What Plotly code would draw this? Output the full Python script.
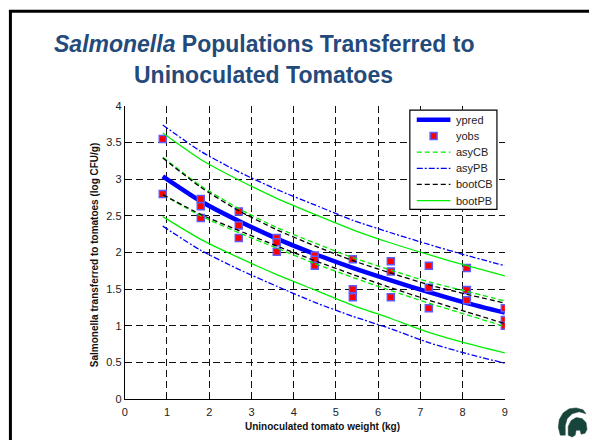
import plotly.graph_objects as go

W, H = 592, 446

# ---------------- data ----------------
x_fit = [0.9, 1.8, 2.7, 3.6, 4.5, 5.4, 6.3, 7.2, 8.1, 9.0]
ypred = [3.04, 2.70, 2.43, 2.19, 1.98, 1.79, 1.62, 1.46, 1.31, 1.18]

asyCB_upper = [3.30, 2.91, 2.60, 2.34, 2.13, 1.93, 1.76, 1.60, 1.47, 1.34]
asyCB_lower = [2.79, 2.50, 2.27, 2.06, 1.85, 1.66, 1.48, 1.31, 1.15, 0.99]
asyPB_upper = [3.74, 3.38, 3.10, 2.86, 2.65, 2.44, 2.27, 2.11, 1.96, 1.82]
asyPB_lower = [2.36, 2.03, 1.77, 1.54, 1.32, 1.13, 0.96, 0.77, 0.62, 0.49]
bootCB_upper = [3.29, 2.89, 2.57, 2.31, 2.09, 1.89, 1.72, 1.56, 1.43, 1.31]
bootCB_lower = [2.79, 2.52, 2.30, 2.09, 1.89, 1.70, 1.52, 1.35, 1.19, 1.03]
bootPB_upper = [3.63, 3.27, 2.99, 2.74, 2.52, 2.31, 2.13, 1.97, 1.82, 1.68]
bootPB_lower = [2.49, 2.18, 1.93, 1.70, 1.49, 1.28, 1.10, 0.91, 0.76, 0.63]

x_obs = [0.9, 0.9,
         1.8, 1.8, 1.8,
         2.7, 2.7, 2.7,
         3.6, 3.6, 3.6,
         4.5, 4.5, 4.5,
         5.4, 5.4, 5.4,
         6.3, 6.3, 6.3,
         7.2, 7.2, 7.2,
         8.1, 8.1, 8.1,
         9.0, 9.0, 9.0]
y_obs = [3.55, 2.80,
         2.73, 2.63, 2.47,
         2.56, 2.37, 2.20,
         2.20, 2.14, 2.01,
         1.96, 1.90, 1.82,
         1.91, 1.50, 1.39,
         1.88, 1.74, 1.39,
         1.82, 1.52, 1.24,
         1.79, 1.49, 1.35,
         1.24, 1.08, 1.00]

x_ticks = [0, 1, 2, 3, 4, 5, 6, 7, 8, 9]
y_ticks = [0, 0.5, 1, 1.5, 2, 2.5, 3, 3.5, 4]

legend_names = ["ypred", "yobs", "asyCB", "asyPB", "bootCB", "bootPB"]

title_line1 = "<b><i>Salmonella</i> Populations Transferred to</b>"
title_line2 = "<b>Uninoculated Tomatoes</b>"
x_title = "Uninoculated tomato weight (kg)"
y_title = "Salmonella transferred to tomatoes (log CFU/g)"

# ---------------- styles ----------------
FONT = "Liberation Sans, Arial, sans-serif"
BLUE = "#0000ff"
GREEN = "#00ee00"
TITLE_COLOR = "#244a7b"
MARKER_EDGE = "#5a5aff"

def px(x):
    return x / W

def py(y):
    return 1 - y / H

styles = {
    "ypred": dict(color=BLUE, width=4.5),
    "asyCB": dict(color=GREEN, width=1.3, dash="5px,3px"),
    "asyPB": dict(color=BLUE, width=1.3, dash="6px,2px,2px,2px"),
    "bootCB": dict(color="#000000", width=1.3, dash="5px,3px"),
    "bootPB": dict(color=GREEN, width=1.3),
}

fig = go.Figure()

fig.add_trace(go.Scatter(x=x_fit, y=ypred, mode="lines", name="ypred",
                         line=dict(styles["ypred"], shape="spline", smoothing=0.6)))
fig.add_trace(go.Scatter(x=x_obs, y=y_obs, mode="markers", name="yobs",
                         marker=dict(symbol="square", size=7, color="#ff0000",
                                     line=dict(color=MARKER_EDGE, width=1.5))))

bands = [
    ("asyCB", asyCB_upper, asyCB_lower),
    ("asyPB", asyPB_upper, asyPB_lower),
    ("bootCB", bootCB_upper, bootCB_lower),
    ("bootPB", bootPB_upper, bootPB_lower),
]
for name, up, lo in bands:
    ln = dict(styles[name], shape="spline", smoothing=0.6)
    fig.add_trace(go.Scatter(x=x_fit, y=up, mode="lines", name=name, line=ln))
    fig.add_trace(go.Scatter(x=x_fit, y=lo, mode="lines", name=name, line=ln))

axis_common = dict(
    showgrid=True, gridcolor="#111111", gridwidth=1, griddash="7px,4px",
    zeroline=False, showline=True, linecolor="#000000", linewidth=1,
    ticks="inside", ticklen=4, tickcolor="#000000", mirror=False,
    tickfont=dict(family=FONT, size=11, color="#222222"),
)

fig.update_layout(
    width=W, height=H,
    margin=dict(l=0, r=0, t=0, b=0),
    paper_bgcolor="#ffffff", plot_bgcolor="#ffffff",
    showlegend=False,
    xaxis=dict(axis_common, domain=[px(123), px(507)], range=[0, 9],
               tickvals=x_ticks, ticktext=[str(v) for v in x_ticks],
               ticklabelstandoff=3),
    yaxis=dict(axis_common, domain=[py(404), py(102.7)], range=[0, 4],
               tickvals=y_ticks, ticktext=[("%g" % v) for v in y_ticks]),
)

annotations = [
    dict(text=title_line1, x=px(264), y=py(39), xref="paper", yref="paper",
         xanchor="center", yanchor="middle", showarrow=False,
         font=dict(family=FONT, size=23, color=TITLE_COLOR)),
    dict(text=title_line2, x=px(263), y=py(71), xref="paper", yref="paper",
         xanchor="center", yanchor="middle", showarrow=False,
         font=dict(family=FONT, size=23, color=TITLE_COLOR)),
    dict(text="<b>" + x_title + "</b>", x=px(323), y=py(432), xref="paper", yref="paper",
         xanchor="center", yanchor="middle", showarrow=False,
         font=dict(family=FONT, size=10, color="#111111")),
    dict(text="<b>" + y_title + "</b>", x=px(92), y=py(256), xref="paper", yref="paper",
         xanchor="center", yanchor="middle", showarrow=False, textangle=-90,
         font=dict(family=FONT, size=10, color="#111111")),
]

shapes = [
    # slide frame (left and top border)
    dict(type="line", xref="paper", yref="paper", x0=px(7.5), x1=px(7.5), y0=0, y1=py(4.5),
         line=dict(color="#000000", width=3)),
    dict(type="line", xref="paper", yref="paper", x0=px(6), x1=1, y0=py(5.5), y1=py(5.5),
         line=dict(color="#000000", width=3)),
    # legend box
    dict(type="rect", xref="paper", yref="paper", x0=px(411), x1=px(499), y0=py(107), y1=py(209),
         fillcolor="#ffffff", line=dict(color="#000000", width=1.2), layer="above"),
]

# legend entries (MATLAB-style legend, tight spacing)
leg_top, leg_step = 117, 16.6
for i, name in enumerate(legend_names):
    yc = leg_top + i * leg_step
    if name == "yobs":
        shapes.append(dict(type="rect", xref="paper", yref="paper",
                           x0=px(431.5), x1=px(438.5), y0=py(yc + 3.5), y1=py(yc - 3.5),
                           fillcolor="#ff0000", line=dict(color=MARKER_EDGE, width=1.5),
                           layer="above"))
    else:
        st = styles[name]
        shapes.append(dict(type="line", xref="paper", yref="paper",
                           x0=px(418), x1=px(452), y0=py(yc), y1=py(yc),
                           line=dict(color=st["color"], width=st["width"],
                                     dash=st.get("dash", "solid")),
                           layer="above"))
    annotations.append(dict(text=name, x=px(456), y=py(yc), xref="paper", yref="paper",
                            xanchor="left", yanchor="middle", showarrow=False,
                            font=dict(family=FONT, size=11, color="#222222")))

# simple Spartan helmet logo (decoration)
def path_from(points):
    s = "M %f %f " % (px(points[0][0]), py(points[0][1]))
    for p in points[1:]:
        s += "L %f %f " % (px(p[0]), py(p[1]))
    return s + "Z"

crest = [(563, 441), (561, 433), (562, 425), (566, 418), (572, 414), (579, 413), (586, 415),
         (589, 419), (582, 417), (575, 419), (570, 424), (568, 431), (568, 441)]
dome = [(571, 441), (571, 432), (574, 426), (579, 423), (585, 424), (589, 428), (590, 435),
        (588, 439), (584, 440), (583, 436), (579, 436), (578, 441), (575, 443)]
for pts in (crest, dome):
    shapes.append(dict(type="path", xref="paper", yref="paper", path=path_from(pts),
                       fillcolor="#18453b", line=dict(color="#18453b", width=0.5)))

fig.update_layout(annotations=annotations, shapes=shapes)

fig.write_html("out.html")
